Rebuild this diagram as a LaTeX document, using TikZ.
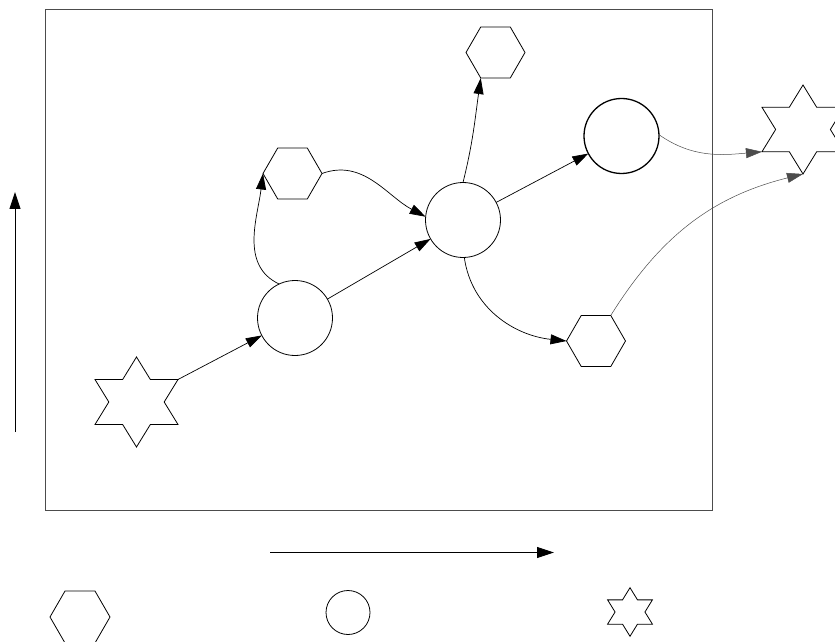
\documentclass[tikz,border=0pt]{standalone}
\usetikzlibrary{shapes.geometric,arrows.meta}
\begin{document}
\begin{tikzpicture}[x=1pt,y=1pt,
  base/.style={draw=black, line width=0.8pt, fill=white, inner sep=0pt, outer sep=0pt},
  hexa/.style={base, regular polygon, regular polygon sides=6, minimum size=59pt},
  circ/.style={base, circle, minimum size=75pt},
  sixstar/.style={base, star, star points=6, star point ratio=1.732, minimum size=90pt, xscale=1.065, transform shape},
  conn/.style={draw=black, line width=0.7pt, -{Triangle[length=16pt,width=10pt]}},
  thinconn/.style={draw=black!70, line width=0.5pt, -{Triangle[length=16pt,width=10pt]}},
  axisarrow/.style={draw=black, line width=0.9pt, -{Triangle[length=17pt,width=11pt]}}]
\useasboundingbox (0,0) rectangle (835,641);
% frame
\node[draw=black!70, line width=1pt, minimum width=666.5pt, minimum height=500.5pt, inner sep=0pt, outer sep=0pt] (frame) at (378.75,381.25) {};
% nodes
\node[sixstar] (ls) at (136.5,239) {};
\node[circ] (c1) at (295,323) {};
\node[circ] (c2) at (463,421) {};
\node[hexa] (h1) at (292.5,467.5) {};
\node[hexa] (h2) at (495.5,588.5) {};
\node[circ, line width=1.3pt] (c3) at (621.5,505) {};
\node[hexa] (h3) at (596,300) {};
\node[sixstar, minimum size=89pt] (rs) at (803,511.5) {};
% connectors
\draw[conn] (ls.outer point 6) -- (c1);
\draw[conn] (c1) -- (c2);
\draw[conn] (c1.115) to[out=155, in=-97] (h1.180);
\draw[conn] (h1.0) to[out=20, in=152] (c2.175);
\draw[conn] (c2.90) to[out=76, in=-98] (h2.240);
\draw[conn] (c2) -- (c3);
\draw[conn] (c2.272) to[out=-82, in=174] (h3.180);
\draw[thinconn] (c3.2) to[out=-35, in=185] (rs.outer point 3);
\draw[thinconn] (h3.60) to[out=58, in=194] (rs.outer point 4);
% axes
\coordinate (va) at (15,209);
\coordinate (vb) at (15,449);
\coordinate (ha) at (270,88.5);
\coordinate (hb) at (554,88.5);
\draw[axisarrow] (va) -- (vb);
\draw[axisarrow] (ha) -- (hb);
% legend
\node[hexa, minimum size=60pt] (lh) at (80,24) {};
\node[circ, minimum size=44pt] (lc) at (348,28.5) {};
\node[sixstar, minimum size=48.6pt] (lst) at (630,29) {};
\end{tikzpicture}
\end{document}
